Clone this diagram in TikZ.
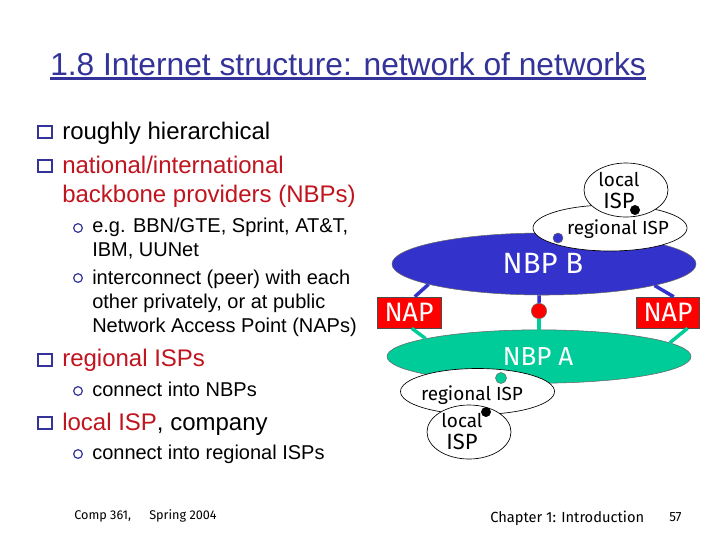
\documentclass[tikz,border=0pt]{standalone}
\usepackage{fontspec}
\usetikzlibrary{shapes.geometric}
\setmainfont{Liberation Sans}
\newfontfamily\handfont{Fira Sans}
\definecolor{navy}{HTML}{333399}
\definecolor{darkred}{HTML}{C0141E}
\definecolor{nbpblue}{HTML}{3333CC}
\definecolor{nbpgreen}{HTML}{00CC99}
\tikzset{
  x=0.75pt,y=-0.75pt,
  lone/.style={anchor=base west,inner sep=0pt,font=\fontsize{18}{18}\selectfont},
  ltwo/.style={anchor=base west,inner sep=0pt,font=\fontsize{15}{15}\selectfont},
  sq/.style={draw=navy,line width=1.5pt,fill=white,minimum width=10.5pt,minimum height=9.5pt,inner sep=0pt},
  circb/.style={circle,draw=navy,line width=0.9pt,minimum size=6.5pt,inner sep=0pt},
  nbp/.style={ellipse,draw=black!60,line width=0.4pt,inner sep=0pt},
  isp/.style={ellipse,draw=black,line width=0.5pt,fill=white,inner sep=0pt},
  nap/.style={rectangle,draw=black!70,line width=0.4pt,fill=red,text=white,inner sep=0pt,font=\handfont\fontsize{20}{20}\selectfont},
  dot/.style={circle,draw=black!60,line width=0.4pt,inner sep=0pt},
  lbl/.style={inner sep=0pt,anchor=base,font=\handfont\fontsize{14.2}{14.2}\selectfont},
  foot/.style={anchor=base west,inner sep=0pt,font=\handfont\fontsize{9.5}{9.5}\selectfont},
  bluelink/.style={draw=nbpblue,line width=2.6pt},
  greenlink/.style={draw=nbpgreen,line width=2.6pt}
}
\begin{document}
\begin{tikzpicture}
\useasboundingbox (0,0) rectangle (720,540);
\fill[white] (0,0) rectangle (720,540);
% title
\node[anchor=base west,inner sep=0pt,text=navy,font=\fontsize{23.8}{24}\selectfont] (title) at (50,75) {1.8 Internet structure: network of networks};
\draw[navy,line width=1.8pt] ([yshift=-2.6pt]title.base west) -- ([yshift=-2.6pt]title.base east);
% bullets
\node[sq] (b1) at (45,132) {};
\node[sq] (b2) at (45,166) {};
\node[sq] (b3) at (45,360) {};
\node[sq] (b4) at (45,423) {};
\node[circb] (c1) at (78,228) {};
\node[circb] (c2) at (78,278) {};
\node[circb] (c3) at (78,391) {};
\node[circb] (c4) at (78,454) {};
\node[lone] (t1) at (62,139) {roughly hierarchical};
\node[lone,text=darkred] (t2) at (62,173) {national/international};
\node[lone,text=darkred] (t3) at (62,202) {backbone providers (NBPs)};
\node[ltwo] (t4) at (92,232) {e.g. BBN/GTE, Sprint, AT\&T,};
\node[ltwo] (t5) at (92,256) {IBM, UUNet};
\node[ltwo] (t6) at (92,284) {interconnect (peer) with each};
\node[ltwo] (t7) at (92,308) {other privately, or at public};
\node[ltwo] (t8) at (92,332) {Network Access Point (NAPs)};
\node[lone,text=darkred] (t9) at (62,366) {regional ISPs};
\node[ltwo] (t10) at (92,396) {connect into NBPs};
\node[lone] (t11) at (62,430) {\textcolor{darkred}{local ISP}, company};
\node[ltwo] (t12) at (92,459) {connect into regional ISPs};
% footer
\node[foot] (f1) at (74,519) {Comp 361,};
\node[foot] (f2) at (149,519) {Spring 2004};
\node[foot,font=\handfont\fontsize{11}{11}\selectfont] (f3) at (490,522) {Chapter 1: Introduction};
\node[foot,font=\handfont\fontsize{10}{10}\selectfont] (f4) at (669,521) {57};
% network
\node[nbp,fill=nbpblue,minimum width=228pt,minimum height=46.5pt] (nbpb) at (544,264) {};
\node[nbp,fill=nbpgreen,minimum width=228pt,minimum height=40pt] (nbpa) at (539,356.5) {};
\node[nap,minimum width=48pt,minimum height=23.25pt] (napl) at (409,312.5) {NAP};
\node[nap,minimum width=47pt,minimum height=23.25pt] (napr) at (668,312.5) {NAP};
\node[dot,fill=red,minimum size=11.5pt] (mid) at (539,311) {};
\draw[bluelink] (nbpb.190.6) -- (napl.70);
\draw[bluelink] (nbpb.261) -- (mid.north);
\draw[bluelink] (nbpb.-11) -- (napr.70);
\draw[greenlink] (napl.-80) -- (nbpa.171.6);
\draw[greenlink] (mid.south) -- (nbpa.90);
\draw[greenlink] (napr.-39) -- (nbpa.6);
\node[anchor=base,inner sep=0pt,text=white,font=\handfont\fontsize{22}{22}\selectfont] (nbpbl) at (543,273) {NBP B};
\node[anchor=base,inner sep=0pt,text=white,font=\handfont\fontsize{19.5}{19.5}\selectfont] (nbpal) at (538,365) {NBP A};
% isps
\node[isp,minimum width=115.5pt,minimum height=34.5pt] (regb) at (610,228) {};
\node[isp,minimum width=63pt,minimum height=40.5pt] (locb) at (626,190) {};
\node[lbl] (regbl) at (618,234) {regional ISP};
\node[lbl] (locbl1) at (619,186) {local};
\node[lbl,font=\handfont\fontsize{16.5}{16.5}\selectfont] (locbl2) at (619,208) {ISP};
\node[dot,fill=nbpblue,minimum size=7.5pt] (dotb) at (558,238) {};
\node[dot,draw=black,fill=black,minimum size=7pt] (dotlb) at (635,210) {};
\node[isp,minimum width=115.5pt,minimum height=34.5pt] (rega) at (477.5,391.5) {};
\node[isp,minimum width=63pt,minimum height=40.5pt] (loca) at (469,432) {};
\node[lbl] (regal) at (472,400) {regional ISP};
\node[lbl] (local1) at (462,427) {local};
\node[lbl,font=\handfont\fontsize{16.5}{16.5}\selectfont] (local2) at (462,449) {ISP};
\node[dot,fill=nbpgreen,minimum size=8.25pt] (dota) at (501,378) {};
\node[dot,draw=black,fill=black,minimum size=7pt] (dotla) at (486,412) {};
\end{tikzpicture}
\end{document}
